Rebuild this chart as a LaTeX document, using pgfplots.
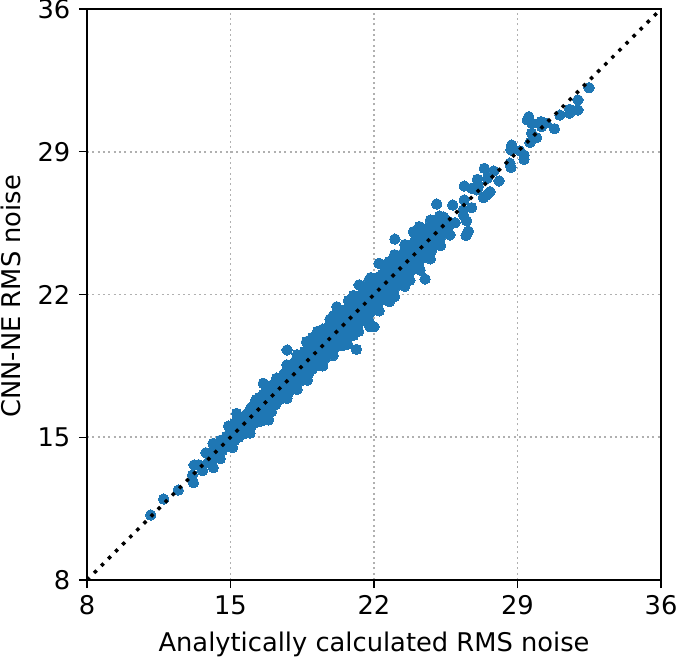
\documentclass[border=0pt]{standalone}
\usepackage{pgfplots}
\pgfplotsset{compat=1.18}
\usepackage{fontspec}
\setmainfont{DejaVu Sans}
\definecolor{tb}{RGB}{31,119,180}
\begin{document}
\begin{tikzpicture}
\path[use as bounding box] (-65.25pt,-58.5pt) rectangle (442.5pt,435pt);
\begin{axis}[
  at={(0,0)}, anchor=south west, scale only axis,
  width=430.5pt, height=428.25pt,
  xmin=8, xmax=36, ymin=8, ymax=36,
  clip mode=individual,
  xtick={8,15,22,29,36}, ytick={8,15,22,29,36},
  tick align=outside, tickwidth=6pt,
  tick style={black, line width=1pt},
  axis line style={black, line width=1.1pt},
  xtick pos=bottom, ytick pos=left,
  grid=major,
  major grid style={color=black!31, line width=1.4pt, dash pattern=on 1.4pt off 2.6pt},
  /pgf/number format/assume math mode=true,
  tick label style={font=\fontsize{19.3}{22}\selectfont},
  label style={font=\fontsize{19.3}{23}\selectfont},
  xlabel={Analytically calculated RMS noise},
  ylabel={CNN-NE RMS noise},
  xlabel style={at={(axis description cs:0.5,-0.126)}, anchor=base},
  ylabel style={at={(axis description cs:-0.1167,0.497)}, anchor=base},
  xticklabel style={yshift=-2pt},
  yticklabel style={xshift=-3pt},
]
\addplot[only marks, color=tb, mark=*, mark size=3.9pt, mark options={draw=tb, line width=0pt, fill=tb}] coordinates {
(32.49,32.14)(31.95,31.54)(31.95,31.05)(31.54,31.08)(31.54,30.89)(31.07,30.80)(30.80,30.13)(30.39,30.40)
(30.15,30.48)(30.18,30.23)(29.55,30.72)(29.48,30.56)(29.69,30.40)(29.69,29.91)(29.93,29.69)(29.61,29.45)
(28.72,29.33)(28.68,29.09)(29.12,29.04)(29.32,28.84)(29.32,28.63)(28.63,28.44)(28.68,28.24)(27.38,28.19)
(27.84,28.06)(28.10,27.57)(27.53,27.70)(27.04,27.65)(26.40,27.32)(26.76,27.21)(27.09,27.29)(27.01,27.13)
(27.66,27.04)(27.50,26.88)(27.33,26.75)(25.06,26.44)(26.40,26.64)(25.84,26.39)(26.76,26.26)(26.36,26.15)
(26.36,25.90)(26.52,25.61)(25.95,25.52)(26.60,25.11)(26.49,24.89)(25.71,24.92)
(23.02,24.72)(24.49,22.76)(22.24,23.53)(21.27,22.47)(22.00,20.42)(21.80,20.42)(21.14,19.31)(17.76,19.28)
(20.71,19.57)(19.85,20.79)(20.18,21.40)(18.71,19.69)(19.50,20.30)(23.92,25.08)(24.21,25.33)(22.73,23.61)(21.84,22.83)
(11.11,11.19)(11.74,11.97)(12.45,12.41)(13.19,12.77)(13.15,13.15)(13.22,13.64)(13.64,13.36)(14.16,13.51)
(13.80,14.24)(16.86,15.85)(14.15,14.70)(16.60,17.65)(14.90,15.55)(15.30,16.17)(15.95,15.20)(13.45,13.65)
(13.9,13.75)(14.0,13.85)(14.0,14.15)(14.2,14.0)(14.2,14.4)(14.4,14.2)(14.4,14.6)(14.6,14.35)(14.6,14.75)
(14.8,14.55)(14.8,15.05)(15.0,14.7)(15.0,14.95)(15.0,15.25)(15.2,14.85)(15.2,15.2)(15.2,15.5)
(15.4,15.0)(15.4,15.35)(15.4,15.75)(15.6,15.2)(15.6,15.6)(15.6,15.95)(15.8,15.4)(15.8,15.7)(15.8,16.15)
(16.0,15.5)(16.0,15.85)(16.0,16.15)(16.0,16.45)(16.2,15.7)(16.2,16.05)(16.2,16.4)(16.2,16.7)
(16.4,15.9)(16.4,16.25)(16.4,16.6)(16.4,16.95)(16.6,16.1)(16.6,16.45)(16.6,16.8)(16.6,17.1)
(16.8,16.25)(16.8,16.6)(16.8,17.0)(16.8,17.4)(17.0,16.45)(17.0,16.8)(17.0,17.2)(17.0,17.55)
(17.2,16.6)(17.2,17.0)(17.2,17.35)(17.2,17.7)(17.4,16.85)(17.4,17.2)(17.4,17.55)(17.4,17.85)
(17.6,17.05)(17.6,17.4)(17.6,17.75)(17.6,18.1)(17.8,17.15)(17.8,17.55)(17.8,17.95)(17.8,18.3)
(18.0,17.35)(18.0,17.75)(18.0,18.15)(18.0,18.55)(18.2,17.5)(18.2,17.95)(18.2,18.35)(18.2,18.8)
(18.4,17.75)(18.4,18.15)(18.4,18.55)(18.4,18.95)(18.6,17.95)(18.6,18.35)(18.6,18.75)(18.6,19.2)
(18.8,18.1)(18.8,18.55)(18.8,18.95)(18.8,19.4)(19.0,18.35)(19.0,18.75)(19.0,19.2)(19.0,19.6)
(19.2,18.5)(19.2,18.95)(19.2,19.4)(19.2,19.85)(19.4,18.7)(19.4,19.15)(19.4,19.6)(19.4,20.05)
(19.6,18.85)(19.6,19.3)(19.6,19.8)(19.6,20.2)(19.8,19.1)(19.8,19.55)(19.8,20.0)(19.8,20.45)
(20.0,19.3)(20.0,19.75)(20.0,20.2)(20.0,20.65)(20.2,19.45)(20.2,19.95)(20.2,20.4)(20.2,20.85)
(20.4,19.7)(20.4,20.15)(20.4,20.6)(20.4,21.05)(20.6,19.9)(20.6,20.35)(20.6,20.8)(20.6,21.25)
(20.8,20.1)(20.8,20.55)(20.8,21.0)(20.8,21.5)(21.0,20.2)(21.0,20.7)(21.0,21.2)(21.0,21.7)
(21.2,20.45)(21.2,20.9)(21.2,21.4)(21.2,21.85)(21.4,20.7)(21.4,21.15)(21.4,21.6)(21.4,22.0)
(21.6,20.85)(21.6,21.3)(21.6,21.8)(21.6,22.25)(21.8,21.1)(21.8,21.55)(21.8,22.0)(21.8,22.45)
(22.0,21.3)(22.0,21.75)(22.0,22.2)(22.0,22.65)(22.2,21.55)(22.2,21.95)(22.2,22.4)(22.2,22.85)
(22.4,21.75)(22.4,22.15)(22.4,22.6)(22.4,23.0)(22.6,21.9)(22.6,22.35)(22.6,22.8)(22.6,23.2)
(22.8,22.1)(22.8,22.55)(22.8,23.0)(22.8,23.4)(23.0,22.3)(23.0,22.75)(23.0,23.2)(23.0,23.6)
(23.2,22.55)(23.2,22.95)(23.2,23.4)(23.2,23.85)(23.4,22.7)(23.4,23.15)(23.4,23.6)(23.4,24.0)
(23.6,22.95)(23.6,23.35)(23.6,23.8)(23.6,24.2)(23.8,23.15)(23.8,23.55)(23.8,24.0)(23.8,24.4)
(24.0,23.3)(24.0,23.75)(24.0,24.2)(24.0,24.65)(24.2,23.6)(24.2,24.0)(24.2,24.4)(24.2,24.8)
(24.4,23.8)(24.4,24.2)(24.4,24.6)(24.4,25.0)(24.6,24.0)(24.6,24.4)(24.6,24.8)(24.6,25.25)
(24.8,24.15)(24.8,24.6)(24.8,25.0)(24.8,25.4)(25.0,24.45)(25.0,24.85)(25.0,25.25)(25.0,25.65)
(25.2,24.6)(25.2,25.05)(25.2,25.5)(25.2,25.85)(25.4,24.95)(25.4,25.4)(25.4,25.8)(25.6,25.25)(25.6,25.6)
(16.25,16.85)(16.75,17.35)(17.25,17.9)(17.75,18.55)
(18.25,19.05)(19,19.9)(19.25,20.2)(20,20.95)
(20.75,21.7)(21,21.95)(21.75,22.7)(22.5,23.45)
(23,23.95)(23.5,24.45)(24,25.0)(24.75,25.65)
(15.75,15.2)(16.5,15.8)(17,16.25)(17.75,16.9)
(18.25,17.35)(18.75,17.8)(19.5,18.5)(20,19.0)
(20.5,19.5)(21,20.0)(21.25,20.2)(21.75,20.7)(22.25,21.2)(22.75,21.65)
(23,21.9)(23.5,22.4)(23.75,22.7)(24.25,23.2)(24.75,23.75)(25.25,24.4)
(14.5,13.95)(15.1,14.5)(14.5,14.85)(15.2,15.7)
};
\addplot[black, line width=2.6pt, dash pattern=on 2.6pt off 4.9pt] coordinates {(8,8)(36,36)};
\end{axis}
\end{tikzpicture}
\end{document}
